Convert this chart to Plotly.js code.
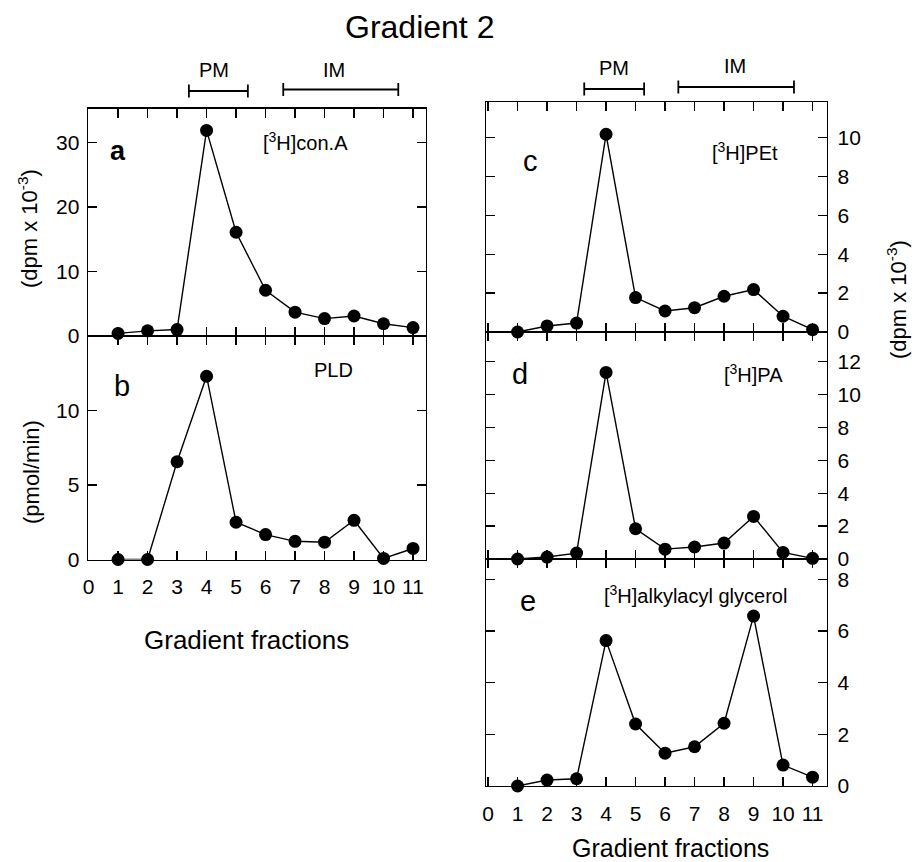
<!DOCTYPE html>
<html>
<head>
<meta charset="utf-8">
<script src="https://cdn.plot.ly/plotly-3.0.1.min.js"></script>
<style>html,body{margin:0;padding:0;background:#fff;}#chart{width:912px;height:862px;}</style>
</head>
<body>
<div id="chart"></div>
<script>
// ---- data ----
const fractions = [1, 2, 3, 4, 5, 6, 7, 8, 9, 10, 11];
const conA = [0.4, 0.8, 1.0, 31.9, 16.1, 7.1, 3.7, 2.7, 3.1, 1.9, 1.3];        // a: dpm x 10^-3
const pld = [0, 0, 6.56, 12.3, 2.5, 1.67, 1.22, 1.16, 2.63, 0.07, 0.74];         // b: pmol/min
const pet = [0, 0.31, 0.46, 10.17, 1.77, 1.08, 1.25, 1.84, 2.18, 0.81, 0.12];    // c
const pa = [0, 0.12, 0.36, 11.34, 1.84, 0.6, 0.73, 0.97, 2.59, 0.4, 0.04];       // d
const aag = [0, 0.23, 0.28, 5.63, 2.4, 1.27, 1.52, 2.43, 6.58, 0.81, 0.34];      // e
const xTickVals = [0, 1, 2, 3, 4, 5, 6, 7, 8, 9, 10, 11];
const xTickLabels = ['0', '1', '2', '3', '4', '5', '6', '7', '8', '9', '10', '11'];
const yTicksA = [0, 10, 20, 30];
const yTicksB = [0, 5, 10];
const yTicksC = [0, 2, 4, 6, 8, 10];
const yTicksD = [0, 2, 4, 6, 8, 10, 12];
const yTicksE = [0, 2, 4, 6, 8];

// ---- layout helpers (pixel -> paper) ----
const W = 912, H = 862;
const px = v => v / W;
const py = v => 1 - v / H;
const FONT = 'Liberation Sans, Arial, Helvetica, sans-serif';

function trace(y, xa, ya) {
  return {
    x: fractions, y: y, xaxis: xa, yaxis: ya, type: 'scatter', mode: 'lines+markers',
    line: {color: '#000', width: 1.4},
    marker: {color: '#000', size: 13},
    cliponaxis: false, hoverinfo: 'skip', showlegend: false
  };
}

function xAxis(domain, range, anchor, labels) {
  return {
    domain: domain, range: range, anchor: anchor,
    tickmode: 'array', tickvals: xTickVals, ticktext: xTickLabels,
    showticklabels: labels, ticks: 'inside', ticklen: 9, tickwidth: 1.3, tickcolor: '#000',
    ticklabelstandoff: 8,
    showline: true, linecolor: '#000', linewidth: 1.4, mirror: 'ticks',
    showgrid: false, zeroline: false, fixedrange: true,
    tickfont: {family: FONT, size: 21, color: '#000'}
  };
}
function yAxis(domain, range, anchor, ticks, side) {
  return {
    domain: domain, range: range, anchor: anchor, side: side,
    tickmode: 'array', tickvals: ticks,
    ticks: 'inside', ticklen: 9, tickwidth: 1.3, tickcolor: '#000',
    ticklabelstandoff: side === 'left' ? 3 : 5,
    showline: true, linecolor: '#000', linewidth: 1.4, mirror: 'ticks',
    showgrid: false, zeroline: false, fixedrange: true,
    tickfont: {family: FONT, size: 21, color: '#000'}
  };
}

const leftX = [px(88), px(426)];
const rightX = [px(486), px(827)];
const leftRange = [-0.02, 11.44];
const rightRange = [-0.07, 11.49];

const data = [
  trace(conA, 'x', 'y'),
  trace(pld, 'x2', 'y2'),
  trace(pet, 'x3', 'y3'),
  trace(pa, 'x4', 'y4'),
  trace(aag, 'x5', 'y5')
];

function txt(text, x, y, size, opts) {
  return Object.assign({
    text: text, xref: 'paper', yref: 'paper', x: px(x), y: py(y),
    xanchor: 'center', yanchor: 'middle', showarrow: false,
    font: {family: FONT, size: size, color: '#000'}
  }, opts || {});
}

const annotations = [
  txt('Gradient 2', 419, 27, 32),
  txt('PM', 214, 70, 20), txt('IM', 334, 70, 20),
  txt('PM', 614, 68, 20), txt('IM', 735, 66, 20),
  txt('<b>a</b>', 118, 151, 27),
  txt('[<sup>3</sup>H]con.A', 305, 141, 20),
  txt('b', 122, 386, 29),
  txt('PLD', 333, 370, 20),
  txt('c', 530, 161, 29),
  txt('[<sup>3</sup>H]PEt', 745, 152, 20),
  txt('d', 520, 374, 29),
  txt('[<sup>3</sup>H]PA', 753, 373, 20),
  txt('e', 528, 601, 29),
  txt('[<sup>3</sup>H]alkylacyl glycerol', 695, 594, 20),
  txt('(dpm x 10<sup>-3</sup>)', 28, 229, 22, {textangle: -90}),
  txt('(pmol/min)', 31, 472, 22, {textangle: -90}),
  txt('(dpm x 10<sup>-3</sup>)', 897, 300, 22, {textangle: -90}),
  txt('Gradient fractions', 246, 640, 26),
  txt('Gradient fractions', 670, 848, 25)
];

function bracket(xref, x0, x1, yPix) {
  const y = py(yPix), c0 = py(yPix - 6.5), c1 = py(yPix + 6.5);
  const s = {type: 'line', xref: xref, yref: 'paper', line: {color: '#000', width: 1.8}};
  return [
    Object.assign({x0: x0, x1: x1, y0: y, y1: y}, s),
    Object.assign({x0: x0, x1: x0, y0: c0, y1: c1}, s),
    Object.assign({x0: x1, x1: x1, y0: c0, y1: c1}, s)
  ];
}
const shapes = [].concat(
  bracket('x', 3.4, 5.4, 91),
  bracket('x', 6.6, 10.5, 89.5),
  bracket('x3', 3.26, 5.29, 89),
  bracket('x3', 6.45, 10.37, 87)
);

const layout = {
  width: W, height: H,
  margin: {l: 0, r: 0, t: 0, b: 0},
  paper_bgcolor: '#fff', plot_bgcolor: 'rgba(0,0,0,0)',
  showlegend: false,
  xaxis: xAxis(leftX, leftRange, 'y', false),
  yaxis: yAxis([py(336), py(108.5)], [0, 35.3], 'x', yTicksA, 'left'),
  xaxis2: xAxis(leftX, leftRange, 'y2', true),
  yaxis2: yAxis([py(559.5), py(336)], [0, 15], 'x2', yTicksB, 'left'),
  xaxis3: xAxis(rightX, rightRange, 'y3', false),
  yaxis3: yAxis([py(332), py(102)], [0, 11.83], 'x3', yTicksC, 'right'),
  xaxis4: xAxis(rightX, rightRange, 'y4', false),
  yaxis4: yAxis([py(559), py(332)], [0, 13.8], 'x4', yTicksD, 'right'),
  xaxis5: xAxis(rightX, rightRange, 'y5', true),
  yaxis5: yAxis([py(786), py(559)], [0, 8.79], 'x5', yTicksE, 'right'),
  annotations: annotations,
  shapes: shapes
};

Plotly.newPlot('chart', data, layout, {staticPlot: true, displayModeBar: false});
</script>
</body>
</html>
